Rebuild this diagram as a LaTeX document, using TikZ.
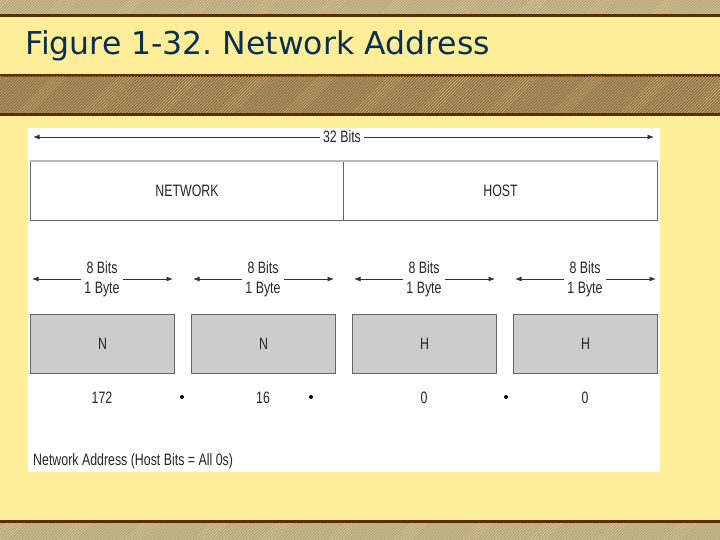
\documentclass[tikz,border=0pt]{standalone}
\usepackage{fontspec}
\usetikzlibrary{arrows.meta,patterns}
\newfontfamily\titlefont{DejaVu Sans}
\newfontfamily\diagfont[FakeStretch=0.75]{Liberation Sans}
\definecolor{bgyellow}{HTML}{FFEE99}
\definecolor{bandlight}{HTML}{B5A680}
\definecolor{banddark}{HTML}{8E7450}
\definecolor{rulebrown}{HTML}{5A3000}
\definecolor{titleblue}{HTML}{0B2F4E}
\definecolor{boxgray}{HTML}{CCCCCC}
\definecolor{edgegray}{HTML}{666666}
\definecolor{streak}{HTML}{D8B868}
\begin{document}
\begin{tikzpicture}[x=1bp,y=-1bp,
  diag/.style={font=\diagfont\fontsize{16.5bp}{20bp}\selectfont, text=black!85},
  field/.style={draw=edgegray, line width=1bp, fill=white, minimum height=59bp, inner sep=0, anchor=north west},
  bytebox/.style={draw=edgegray, line width=1bp, fill=boxgray, minimum width=144bp, minimum height=59bp, inner sep=0, anchor=north west},
  dim/.style={-{Latex[length=6.5bp,width=5bp]}, line width=0.8bp, draw=black!80},
  dotmark/.style={circle, fill=black, inner sep=0, minimum size=4bp},
  band/.style={pattern=north east lines, pattern color=streak},
]
\useasboundingbox (0,0) rectangle (720,540);
% background and bands
\fill[bgyellow] (0,0) rectangle (720,540);
\fill[bandlight] (0,0) rectangle (720,14);
\fill[band, pattern color=streak!70!white] (0,0) rectangle (720,14);
\fill[rulebrown] (0,14) rectangle (720,17);
\fill[rulebrown] (0,74) rectangle (720,77);
\fill[banddark] (0,77) rectangle (720,113);
\fill[band] (0,77) rectangle (720,113);
\fill[rulebrown] (0,113) rectangle (720,116);
\fill[rulebrown] (0,520) rectangle (720,523);
\fill[bandlight] (0,523) rectangle (720,540);
\fill[band, pattern color=streak!70!white] (0,523) rectangle (720,540);
% title
\node[anchor=base west, inner sep=0, text=titleblue, font=\titlefont\fontsize{31.5bp}{36bp}\selectfont] (title) at (25,55) {Figure 1-32.\ Network Address};
% white panel
\fill[white] (28,128) rectangle (660,472);
% 32 bits
\coordinate (tl) at (33,137);
\coordinate (tr) at (654,137);
\node[diag, fill=white] (tb) at (342,137) {32 Bits};
\draw[dim] (tb.west) -- (tb.west -| tl);
\draw[dim] (tb.east) -- (tb.east -| tr);
% network / host fields
\node[field, minimum width=313bp] (net) at (30,161) {};
\node[field, minimum width=314bp] (host) at (343,161) {};
\draw[line width=2bp, gray!55] (net.north west) -- (host.north east);
\node[diag] at (net.center) {NETWORK};
\node[diag] at (host.center) {HOST};
% byte boxes
\foreach \i/\x/\lab/\val in {1/30/N/172, 2/191/N/16, 3/352/H/0, 4/513/H/0}{
  \node[bytebox] (bx\i) at (\x,314) {};
  \node[diag] (bl\i) at (bx\i.center) {\lab};
  \coordinate (al\i) at (\x+2,279);
  \coordinate (ar\i) at (\x+143,279);
  \node[diag, align=center] (lab\i) at (\x+72,279) {8 Bits\\1 Byte};
  \draw[dim] (lab\i.west) -- (lab\i.west -| al\i);
  \draw[dim] (lab\i.east) -- (lab\i.east -| ar\i);
  \node[diag] (num\i) at (\x+72,398) {\val};
}
\node[dotmark] (d1) at (182,397) {};
\node[dotmark] (d2) at (311,397) {};
\node[dotmark] (d3) at (506,397) {};
\node[diag, anchor=west, inner sep=0] (cap) at (33,461) {Network Address (Host Bits = All 0s)};
\end{tikzpicture}
\end{document}
